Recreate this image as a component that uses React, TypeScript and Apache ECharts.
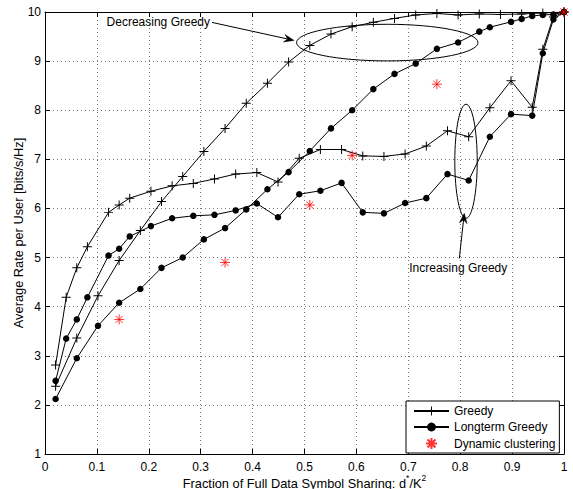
import React, { useEffect, useRef } from "react";
import * as echarts from "echarts";

// x positions are d*/K^2 with K^2 = 49 (indices of d*)
const K2 = 49;
const incIdx = [1, 2, 3, 4, 6, 7, 8, 10, 12, 14, 16, 18, 20, 22, 24, 26, 28, 30, 32, 34, 36, 38, 40, 42, 44, 46, 47, 48, 49];
const incGreedy = [2.81, 4.19, 4.79, 5.22, 5.92, 6.07, 6.21, 6.35, 6.46, 6.51, 6.6, 6.7, 6.73, 6.54, 7.02, 7.2, 7.2, 7.07, 7.06, 7.11, 7.27, 7.58, 7.46, 8.05, 8.6, 8.06, 9.24, 9.9, 10.0];
const incLongterm = [2.49, 3.35, 3.74, 4.19, 5.04, 5.18, 5.43, 5.64, 5.8, 5.85, 5.87, 5.96, 6.1, 5.82, 6.29, 6.36, 6.52, 5.92, 5.9, 6.11, 6.21, 6.7, 6.57, 7.46, 7.92, 7.89, 9.16, 9.85, 10.0];
const decIdx = [1, 3, 5, 7, 9, 11, 13, 15, 17, 19, 21, 23, 25, 27, 29, 31, 33, 35, 37, 39, 41, 43, 45, 47, 49];
const decGreedy = [2.38, 3.36, 4.22, 4.94, 5.55, 6.14, 6.65, 7.16, 7.63, 8.14, 8.55, 8.98, 9.32, 9.55, 9.7, 9.79, 9.87, 9.94, 9.97, 9.94, 9.96, 9.95, 9.96, 9.98, 10.0];
const decLtIdx = [1, 3, 5, 7, 9, 11, 13, 15, 17, 19, 21, 23, 25, 27, 29, 31, 33, 35, 37, 39, 41, 42, 44, 45, 46, 47, 48, 49];
const decLongterm = [2.12, 2.95, 3.61, 4.08, 4.36, 4.79, 5.0, 5.37, 5.6, 5.98, 6.39, 6.74, 7.17, 7.63, 8.0, 8.43, 8.74, 8.95, 9.25, 9.38, 9.6, 9.69, 9.8, 9.86, 9.92, 9.94, 9.95, 10.0];
const dynIdx = [7, 17, 25, 29, 37, 49];
const dynamicClustering = [3.74, 4.9, 6.07, 7.08, 8.53, 10.0];

const xMin = 0, xMax = 1, xInterval = 0.1;
const yMin = 1, yMax = 10, yInterval = 1;

const legendNames = ["Greedy", "Longterm Greedy", "Dynamic clustering"];

// annotations in data coordinates
const decText = { label: "Decreasing Greedy", x: 0.3179, y: 9.788 };
const decArrow = { x1: 0.3218, y1: 9.788, x2: 0.4798, y2: 9.422 };
const decEllipse = { cx: 0.6595, cy: 9.377, rx: 0.1748, ry: 0.3727 };
const incText = { label: "Increasing Greedy", x: 0.7963, y: 4.794 };
const incArrow = { x1: 0.7983, y1: 4.982, x2: 0.8079, y2: 5.902 };
const incEllipse = { cx: 0.8112, cy: 6.961, rx: 0.0216, ry: 1.161 };

const FONT = "'Liberation Sans', Arial, Helvetica, sans-serif";
const PLUS = "path://M-0.11,-1H0.11V-0.11H1V0.11H0.11V1H-0.11V0.11H-1V-0.11H-0.11Z";
const STAR = "path://M0,-1L0,1M-1,0L1,0M-0.72,-0.72L0.72,0.72M-0.72,0.72L0.72,-0.72";

const pair = (idx: number[], vals: number[]) => idx.map((n, i) => [n / K2, vals[i]]);

export default function App() {
  const ref = useRef<HTMLDivElement>(null);
  useEffect(() => {
    if (!ref.current) return;
    const chart = echarts.init(ref.current, null, { renderer: "svg" });
    const lineSeries = (name: string, data: number[][], symbol: string, size: number) => ({
      name,
      type: "line",
      data,
      symbol,
      symbolSize: size,
      showAllSymbol: true,
      lineStyle: { color: "#000", width: 1 },
      itemStyle: { color: "#000" },
      z: 3,
    });
    const boxAxis = {
      min: xMin,
      max: xMax,
      interval: xInterval,
      axisLine: { show: true, onZero: false, lineStyle: { color: "#000", width: 1 } },
      axisTick: { show: true, inside: true, length: 5, lineStyle: { color: "#000" } },
      axisLabel: { show: false },
      splitLine: { show: false },
    };
    chart.setOption({
      animation: false,
      backgroundColor: "#fff",
      grid: { left: 45, right: 9, top: 12, bottom: 35, containLabel: false, outerBoundsMode: "none" },
      legend: {
        data: legendNames,
        orient: "vertical",
        left: 406,
        top: 401,
        padding: [4, 4, 3, 7],
        itemGap: 4,
        itemWidth: 35,
        itemHeight: 11,
        backgroundColor: "#fff",
        borderColor: "#000",
        borderWidth: 1,
        borderRadius: 0,
        textStyle: { fontSize: 12, fontFamily: FONT, color: "#000" },
      },
      xAxis: [
        {
          type: "value",
          min: xMin,
          max: xMax,
          interval: xInterval,
          position: "bottom",
          axisLine: { show: true, onZero: false, lineStyle: { color: "#000", width: 1 } },
          axisTick: { show: true, inside: true, length: 5, lineStyle: { color: "#000" } },
          axisLabel: {
            margin: 7,
            fontSize: 12,
            fontFamily: FONT,
            color: "#000",
            formatter: (v: number) => String(Number(v.toFixed(1))),
          },
          splitLine: { show: true, lineStyle: { color: "#777", type: [1, 3], width: 1 } },
          name: "{a|Fraction of Full Data Symbol Sharing: d}{s|*}{a|/K}{s|2}",
          nameLocation: "middle",
          nameGap: 19.5,
          nameMoveOverlap: false,
          nameTextStyle: {
            rich: {
              a: { fontSize: 12.8, fontFamily: FONT, color: "#000", lineHeight: 16, verticalAlign: "bottom" },
              s: { fontSize: 8.5, fontFamily: FONT, color: "#000", lineHeight: 9, verticalAlign: "top" },
            },
          },
        },
        { type: "value", position: "top", ...boxAxis },
      ],
      yAxis: [
        {
          type: "value",
          min: yMin,
          max: yMax,
          interval: yInterval,
          position: "left",
          axisLine: { show: true, onZero: false, lineStyle: { color: "#000", width: 1 } },
          axisTick: { show: true, inside: true, length: 5, lineStyle: { color: "#000" } },
          axisLabel: { margin: 4, fontSize: 12, fontFamily: FONT, color: "#000" },
          splitLine: { show: true, lineStyle: { color: "#777", type: [1, 3], width: 1 } },
          name: "Average Rate per User [bits/s/Hz]",
          nameLocation: "middle",
          nameGap: 20,
          nameMoveOverlap: false,
          nameTextStyle: { fontSize: 12.8, fontFamily: FONT, color: "#000" },
        },
        { type: "value", position: "right", ...boxAxis, min: yMin, max: yMax, interval: yInterval },
      ],
      series: [
        lineSeries("Greedy", pair(decIdx, decGreedy), PLUS, 9),
        lineSeries("Greedy", pair(incIdx, incGreedy), PLUS, 9),
        lineSeries("Longterm Greedy", pair(decLtIdx, decLongterm), "circle", 6.5),
        lineSeries("Longterm Greedy", pair(incIdx, incLongterm), "circle", 6.5),
        {
          name: "Dynamic clustering",
          type: "scatter",
          data: pair(dynIdx, dynamicClustering),
          symbol: STAR,
          symbolSize: 10,
          itemStyle: { color: "#ff0000", borderColor: "#ff0000", borderWidth: 1 },
          z: 4,
        },
      ],
    });

    const px = (x: number, y: number) => chart.convertToPixel({ xAxisIndex: 0, yAxisIndex: 0 }, [x, y]) as number[];
    const arrow = (a: { x1: number; y1: number; x2: number; y2: number }) => {
      const p1 = px(a.x1, a.y1);
      const p2 = px(a.x2, a.y2);
      const dx = p2[0] - p1[0];
      const dy = p2[1] - p1[1];
      const len = Math.hypot(dx, dy);
      const ux = dx / len, uy = dy / len;
      const nx = -uy, ny = ux;
      const L = 10, W = 3.8;
      const back = [p2[0] - L * ux, p2[1] - L * uy];
      const notch = [p2[0] - 0.65 * L * ux, p2[1] - 0.65 * L * uy];
      return [
        { type: "line", silent: true, shape: { x1: p1[0], y1: p1[1], x2: notch[0], y2: notch[1] }, style: { stroke: "#000", lineWidth: 1 } },
        {
          type: "polygon",
          silent: true,
          shape: { points: [p2, [back[0] + W * nx, back[1] + W * ny], notch, [back[0] - W * nx, back[1] - W * ny]] },
          style: { fill: "#000", stroke: "#000", lineWidth: 0.5 },
        },
      ];
    };
    const ellipse = (e: { cx: number; cy: number; rx: number; ry: number }) => {
      const c = px(e.cx, e.cy);
      const r1 = px(e.cx + e.rx, e.cy + e.ry);
      return {
        type: "ellipse",
        silent: true,
        shape: { cx: c[0], cy: c[1], rx: Math.abs(r1[0] - c[0]), ry: Math.abs(r1[1] - c[1]) },
        style: { fill: "none", stroke: "#000", lineWidth: 1 },
      };
    };
    const text = (t: { label: string; x: number; y: number }, align: string) => {
      const p = px(t.x, t.y);
      return {
        type: "text",
        silent: true,
        style: { text: t.label, x: p[0], y: p[1], align, verticalAlign: "middle", font: `12px ${FONT}`, fill: "#000" },
      };
    };
    chart.setOption({
      graphic: [
        ellipse(decEllipse),
        ellipse(incEllipse),
        ...arrow(decArrow),
        ...arrow(incArrow),
        text(decText, "right"),
        text(incText, "center"),
      ],
    });
    return () => chart.dispose();
  }, []);
  return <div ref={ref} style={{ position: "fixed", left: 0, top: 0, width: 573, height: 489 }} />;
}
